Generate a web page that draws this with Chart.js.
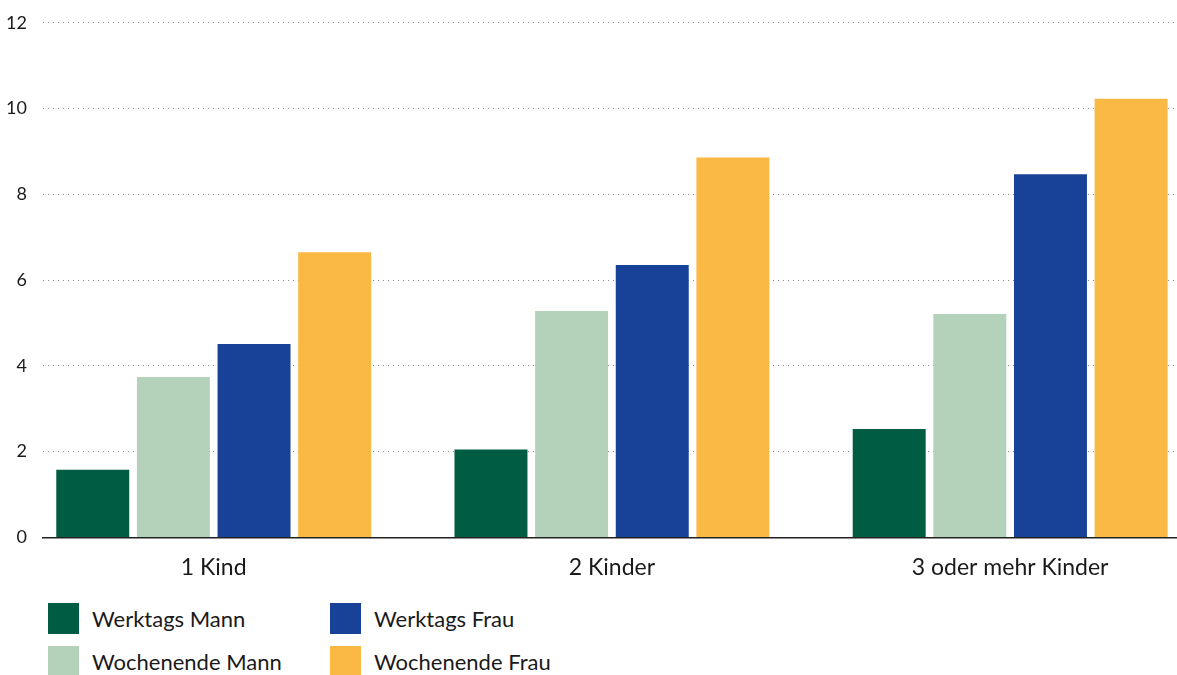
<!DOCTYPE html>
<html>
<head>
<meta charset="utf-8">
<script src="https://cdn.jsdelivr.net/npm/chart.js@4"></script>
<style>
  html, body { margin: 0; padding: 0; background: #fff; overflow: hidden; }
  body { width: 1177px; height: 675px; position: relative; font-family: Lato, sans-serif; }
  #wrap { position: absolute; left: 0; top: -4px; width: 1177px; height: 601px; }
  #legend { position: absolute; left: 48px; top: 603px; display: grid;
            grid-template-columns: 282px 260px; row-gap: 12px; }
  .item { display: flex; align-items: center; height: 31px; font-size: 22px; color: #1a1a1a; }
  .box { width: 31px; height: 31px; margin-right: 13px; flex: none; }
</style>
</head>
<body>
<div id="wrap"><canvas id="chart"></canvas></div>
<div id="legend"></div>
<script>
const categories = ["1 Kind", "2 Kinder", "3 oder mehr Kinder"];
const werktagsMann = [1.58, 2.05, 2.53];
const wochenendeMann = [3.74, 5.28, 5.21];
const werktagsFrau = [4.51, 6.35, 8.47];
const wochenendeFrau = [6.65, 8.86, 10.23];
const yTicks = [0, 2, 4, 6, 8, 10, 12];

const textColor = '#1a1a1a';

function points(values) {
    return values.map((v, i) => ({ x: i, y: v }));
}

const ctx = document.getElementById('chart');
const chart = new Chart(ctx, {
    type: 'bar',
    data: {
        datasets: [
            { label: 'Werktags Mann', data: points(werktagsMann), backgroundColor: '#005C42' },
            { label: 'Wochenende Mann', data: points(wochenendeMann), backgroundColor: '#B4D1B9' },
            { label: 'Werktags Frau', data: points(werktagsFrau), backgroundColor: '#174297' },
            { label: 'Wochenende Frau', data: points(wochenendeFrau), backgroundColor: '#FAB944' }
        ]
    },
    options: {
        responsive: true,
        maintainAspectRatio: false,
        animation: false,
        categoryPercentage: 0.81,
        barPercentage: 0.905,
        layout: { padding: { left: -10, right: 0, top: 2, bottom: 0 } },
        plugins: {
            legend: { display: false },
            tooltip: { enabled: false }
        },
        scales: {
            x: {
                type: 'linear',
                offset: false,
                min: -0.429,
                max: 2.419,
                afterBuildTicks: axis => {
                    axis.ticks = categories.map((c, i) => ({ value: i }));
                },
                grid: { display: false, drawTicks: false, offset: false },
                border: { display: true, color: '#222', width: 1.5 },
                ticks: {
                    padding: 16,
                    color: textColor,
                    font: { family: 'Lato', size: 23 },
                    callback: value => categories[value]
                }
            },
            y: {
                min: 0,
                max: 12,
                afterBuildTicks: axis => {
                    axis.ticks = yTicks.map(v => ({ value: v }));
                },
                grid: { color: '#8a8a8a', lineWidth: 1, drawTicks: false },
                border: { display: false, dash: [1, 4] },
                ticks: {
                    padding: 16,
                    color: textColor,
                    font: { family: 'Lato', size: 18 }
                }
            }
        }
    }
});

// legend in two columns, row order: Werktags / Wochenende
const legendOrder = [0, 2, 1, 3];
const items = chart.options.plugins.legend.labels.generateLabels(chart);
const legend = document.getElementById('legend');
legendOrder.forEach(idx => {
    const it = items[idx];
    const div = document.createElement('div');
    div.className = 'item';
    div.innerHTML = '<span class="box" style="background:' + it.fillStyle + '"></span>' + it.text;
    legend.appendChild(div);
});
</script>
</body>
</html>
